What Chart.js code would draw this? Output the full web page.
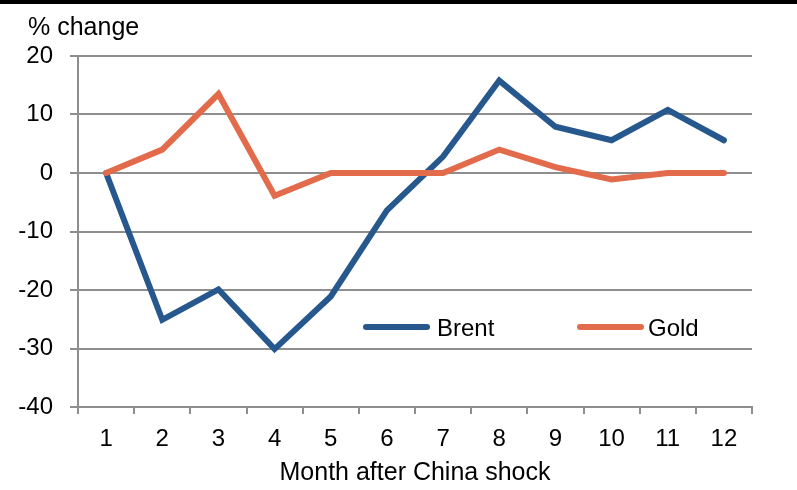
<!DOCTYPE html>
<html>
<head>
<meta charset="utf-8">
<script src="https://cdn.jsdelivr.net/npm/chart.js@4/dist/chart.umd.min.js"></script>
<style>
  html, body { margin: 0; padding: 0; background: #ffffff; }
  #wrap { width: 797px; height: 490px; position: relative; }
</style>
</head>
<body>
<div id="wrap"><canvas id="c" width="797" height="490"></canvas></div>
<script>
// Months after the shock and the % change of each commodity
const months = ['1', '2', '3', '4', '5', '6', '7', '8', '9', '10', '11', '12'];
const brent = [0, -25.1, -19.9, -30.1, -21.1, -6.4, 2.8, 15.8, 7.9, 5.6, 10.8, 5.6];
const gold = [0, 4.0, 13.5, -3.9, 0, 0, 0, 4.0, 1.0, -1.1, 0, 0];
const yTicks = [20, 10, 0, -10, -20, -30, -40];

const FONT = '"Liberation Sans", Arial, Helvetica, sans-serif';
const BLUE = '#26588e';
const ORANGE = '#e26b4b';
const GRID = '#8e8e8e';

// Black rule along the top, unit label, and the legend drawn inside the plot
const decor = {
  id: 'decor',
  beforeDraw(chart) {
    const ctx = chart.ctx;
    ctx.save();
    ctx.fillStyle = '#ffffff';
    ctx.fillRect(0, 0, chart.width, chart.height);
    ctx.fillStyle = '#000000';
    ctx.fillRect(0, 0, chart.width, 4);
    ctx.restore();
  },
  afterDraw(chart) {
    const ctx = chart.ctx;
    ctx.save();
    ctx.fillStyle = '#000000';
    ctx.font = '25px ' + FONT;
    ctx.textAlign = 'left';
    ctx.textBaseline = 'middle';
    ctx.fillText('% change', 28, 28);

    ctx.font = '24px ' + FONT;
    const items = chart.data.datasets.map(d => ({ label: d.label, color: d.borderColor }));
    const lineStart = [366, 580];
    const textStart = [437, 648];
    const y = 327;
    items.forEach((it, i) => {
      ctx.strokeStyle = it.color;
      ctx.lineWidth = 6;
      ctx.lineCap = 'round';
      ctx.beginPath();
      ctx.moveTo(lineStart[i], y);
      ctx.lineTo(lineStart[i] + 61, y);
      ctx.stroke();
      ctx.fillStyle = '#000000';
      ctx.fillText(it.label, textStart[i], y + 2);
    });
    ctx.restore();
  }
};

new Chart(document.getElementById('c'), {
  type: 'line',
  data: {
    labels: months,
    datasets: [
      {
        label: 'Brent',
        data: brent,
        borderColor: BLUE,
        backgroundColor: BLUE,
        borderWidth: 6,
        pointRadius: 0,
        tension: 0,
        borderCapStyle: 'round',
        borderJoinStyle: 'miter',
        order: 1
      },
      {
        label: 'Gold',
        data: gold,
        borderColor: ORANGE,
        backgroundColor: ORANGE,
        borderWidth: 6,
        pointRadius: 0,
        tension: 0,
        borderCapStyle: 'round',
        borderJoinStyle: 'miter',
        order: 0
      }
    ]
  },
  options: {
    responsive: false,
    animation: false,
    devicePixelRatio: 1,
    layout: { padding: { left: 0, right: 45, top: 56, bottom: 0 } },
    plugins: {
      legend: { display: false },
      tooltip: { enabled: false },
      title: { display: false }
    },
    scales: {
      x: {
        offset: true,
        afterFit(scale) { scale.height = 83; },
        grid: {
          offset: true,
          drawOnChartArea: false,
          drawTicks: true,
          tickLength: 7,
          color: GRID,
          lineWidth: 2
        },
        border: { display: true, color: GRID, width: 2 },
        ticks: {
          color: '#000000',
          font: { family: FONT, size: 24 },
          padding: 11,
          maxRotation: 0,
          autoSkip: false
        },
        title: {
          display: true,
          text: 'Month after China shock',
          color: '#000000',
          font: { family: FONT, size: 25 },
          padding: { top: 0, bottom: 2 }
        }
      },
      y: {
        min: -40,
        max: 20,
        afterBuildTicks(scale) {
          scale.ticks = yTicks.slice().reverse().map(v => ({ value: v }));
        },
        afterFit(scale) { scale.width = 78; },
        grid: {
          color: GRID,
          lineWidth: 2,
          drawTicks: true,
          tickLength: 8
        },
        border: { display: true, color: GRID, width: 2 },
        ticks: {
          color: '#000000',
          font: { family: FONT, size: 24 },
          padding: 17
        }
      }
    }
  },
  plugins: [decor]
});
</script>
</body>
</html>
